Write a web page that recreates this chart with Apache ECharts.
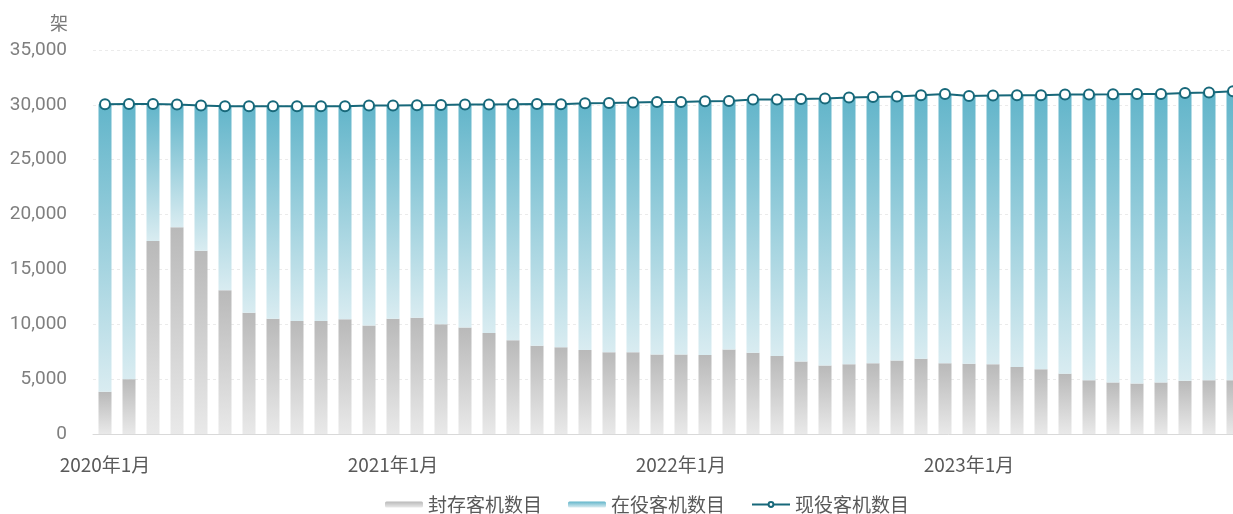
<!DOCTYPE html>
<html>
<head>
<meta charset="utf-8">
<script src="https://cdn.jsdelivr.net/npm/echarts@6/dist/echarts.min.js"></script>
<style>
html,body{margin:0;padding:0;background:#fff;}
#chart{width:1233px;height:514px;}
</style>
</head>
<body>
<div id="chart"></div>
<script>
// Labels
const years = [2020, 2021, 2022, 2023];
const months = [1,2,3,4,5,6,7,8,9,10,11,12];
const categories = [];
years.forEach(y => months.forEach(m => categories.push(y + '年' + m + '月')));

// 封存客机数目 (stored aircraft)
const storedValues = [
  3850, 5000, 17600, 18850, 16700, 13100, 11050, 10500, 10300, 10300, 10450, 9900,
  10500, 10600, 10000, 9700, 9200, 8550, 8050, 7900, 7650, 7450, 7450, 7250,
  7250, 7200, 7700, 7400, 7100, 6600, 6250, 6350, 6450, 6700, 6850, 6450,
  6400, 6350, 6100, 5900, 5500, 4900, 4700, 4600, 4700, 4850, 4900, 4900
];
// 在役客机数目 (active aircraft)
const activeValues = [
  26205, 25080, 12480, 11175, 13235, 16770, 18820, 19370, 19570, 19570, 19420, 20035,
  19435, 19365, 19990, 20330, 20830, 21505, 22030, 22155, 22495, 22725, 22760, 23015,
  23015, 23130, 22655, 23085, 23385, 23940, 24325, 24315, 24270, 24055, 24025, 24545,
  24410, 24500, 24775, 24975, 25440, 26040, 26265, 26395, 26295, 26235, 26220, 26340
];
// 现役客机数目 (fleet total)
const fleetValues = [
  30055, 30080, 30080, 30025, 29935, 29870, 29870, 29870, 29870, 29870, 29870, 29935,
  29935, 29965, 29990, 30030, 30030, 30055, 30080, 30055, 30145, 30175, 30210, 30265,
  30265, 30330, 30355, 30485, 30485, 30540, 30575, 30665, 30720, 30755, 30875, 30995,
  30810, 30850, 30875, 30875, 30940, 30940, 30965, 30995, 30995, 31085, 31120, 31240
];

const cjk = '"Noto Sans CJK SC", "Noto Sans", sans-serif';
const chart = echarts.init(document.getElementById('chart'), null, {renderer: 'canvas'});
chart.setOption({
  animation: false,
  backgroundColor: '#ffffff',
  grid: {left: 93, width: 1152, top: 50, bottom: 80, containLabel: false, outerBoundsMode: 'none'},
  legend: {
    left: 380, top: 490,
    itemWidth: 38, itemHeight: 6, itemGap: 26,
    textStyle: {fontFamily: cjk, fontSize: 19, color: '#595959'},
    data: ['封存客机数目', '在役客机数目', '现役客机数目']
  },
  xAxis: {
    type: 'category',
    data: categories,
    axisTick: {show: false},
    axisLine: {lineStyle: {color: '#d9d9d9', width: 1}},
    axisLabel: {interval: 11, margin: 21, fontFamily: cjk, fontSize: 19, color: '#595959'}
  },
  yAxis: {
    type: 'value',
    min: 0, max: 35000, interval: 5000,
    name: '架',
    nameLocation: 'end',
    nameGap: 18,
    nameTextStyle: {fontFamily: cjk, fontSize: 18, color: '#7a7a7a', align: 'right', padding: [0, 25, 0, 0]},
    axisLine: {show: false},
    axisTick: {show: false},
    splitLine: {lineStyle: {color: '#ebebeb', type: [3, 3], width: 1}},
    axisLabel: {
      margin: 26,
      fontFamily: '"Liberation Sans Narrow", "Roboto", sans-serif',
      fontSize: 19, color: '#7f7f7f',
      formatter: v => v.toLocaleString('en-US')
    }
  },
  series: [
    {
      name: '封存客机数目',
      type: 'bar',
      stack: 'fleet',
      barWidth: 13,
      data: storedValues,
      itemStyle: {
        color: new echarts.graphic.LinearGradient(0, 0, 0, 1, [
          {offset: 0, color: '#b9b9b9'},
          {offset: 1, color: '#e9e9e9'}
        ])
      }
    },
    {
      name: '在役客机数目',
      type: 'bar',
      stack: 'fleet',
      barWidth: 13,
      data: activeValues,
      itemStyle: {
        color: new echarts.graphic.LinearGradient(0, 0, 0, 1, [
          {offset: 0, color: '#62b5ca'},
          {offset: 1, color: '#d9ecf1'}
        ])
      }
    },
    {
      name: '现役客机数目',
      type: 'line',
      data: fleetValues,
      symbol: 'circle',
      symbolSize: 10,
      z: 5,
      lineStyle: {color: '#17687a', width: 2},
      itemStyle: {color: '#ffffff', borderColor: '#17687a', borderWidth: 2}
    }
  ]
});
</script>
</body>
</html>
